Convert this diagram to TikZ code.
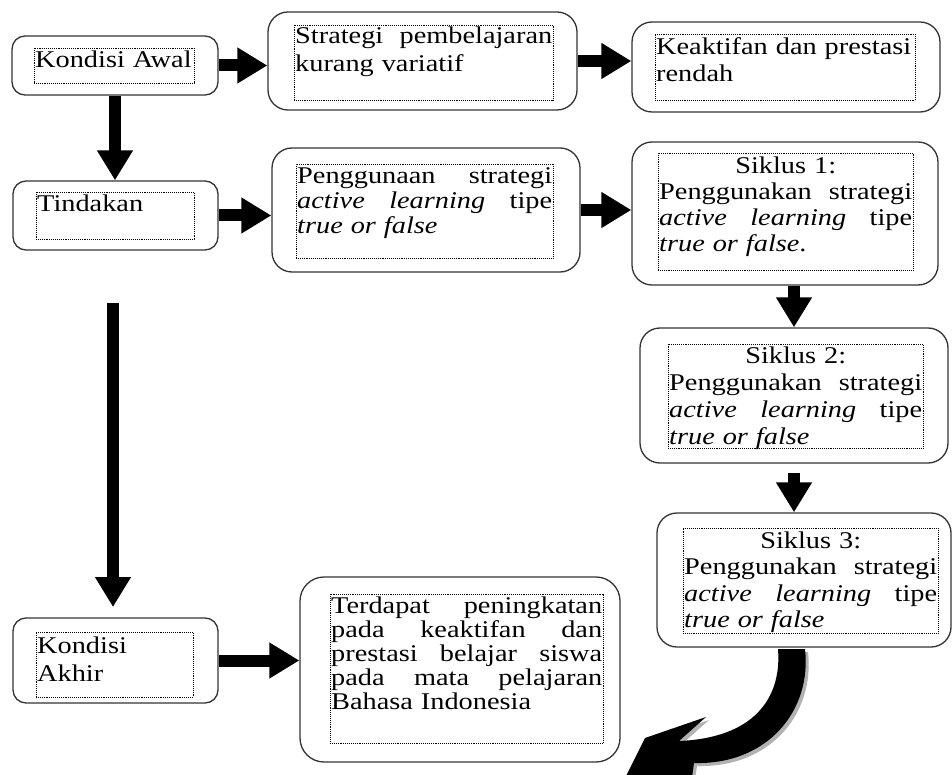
\documentclass[tikz,border=0pt]{standalone}
\usepackage{fontspec}
\setmainfont[FakeStretch=1.18]{Liberation Serif}
\usetikzlibrary{fit,arrows.meta,calc}
\begin{document}
\begin{tikzpicture}[x=1pt,y=-1pt,
  obox/.style={draw=black!80,line width=1.3pt,fill=white,inner sep=0pt,rounded corners=#1},
  obox/.default=20pt,
  ibox/.style={draw=black,densely dotted,line width=0.9pt,inner sep=0pt},
  txt/.style={anchor=north west,inner sep=0pt,align=left,font=\fontsize{24}{#1}\selectfont},
  txt/.default=27,
  fat/.style={line width=12pt,-{Triangle[length=30pt,width=34pt]}},
  shade/.style={fill=black!30}
]
\useasboundingbox (0,0) rectangle (952,775);

% ---------- boxes ----------
\node[obox=13pt, fit={(12,36)(218,95)}] (ka) {};
\node[ibox, fit={(34,48)(194,83)}] (kai) {};
\node[txt, text width=158pt] (kat) at (35,48) {\noindent\rule{0pt}{19pt}Kondisi Awal};

\node[obox, fit={(268,12)(577,110)}] (sp) {};
\node[ibox, fit={(294,25)(553,100)}] (spi) {};
\node[txt=28, text width=257pt] (spt) at (295,25) {\noindent\rule{0pt}{18pt}Strategi\hfill pembelajaran\\kurang variatif};

\node[obox, fit={(632,22)(940,112)}] (kp) {};
\node[ibox, fit={(655,34)(915,100)}] (kpi) {};
\node[txt, text width=258pt] (kpt) at (656,34) {\noindent\rule{0pt}{20pt}Keaktifan dan prestasi\\rendah};

\node[obox=13pt, fit={(13,181)(218,250)}] (ti) {};
\node[ibox, fit={(36,192)(194,239)}] (tii) {};
\node[txt, text width=156pt] (tit) at (37,192) {\noindent\rule{0pt}{19pt}Tindakan};

\node[obox, fit={(272,148)(580,272)}] (pg) {};
\node[ibox, fit={(296,164)(553,258)}] (pgi) {};
\node[txt=25, text width=255pt] (pgt) at (297,164) {\noindent\rule{0pt}{19pt}Penggunaan\hfill strategi\\\textit{active}\hfill\textit{learning}\hfill tipe\\\textit{true or false}};

\node[obox, fit={(632,142)(938,285)}] (s1) {};
\node[ibox, fit={(658,153)(913,270)}] (s1i) {};
\node[txt=26, text width=253pt] (s1t) at (659,153) {\noindent\rule{0pt}{20pt}\hfill Siklus 1:\hfill\null\\Penggunakan\hfill strategi\\\textit{active}\hfill\textit{learning}\hfill tipe\\\textit{true or false}.};

\node[obox, fit={(640,328)(948,463)}] (s2) {};
\node[ibox, fit={(668,344)(923,448)}] (s2i) {};
\node[txt=27, text width=253pt] (s2t) at (669,344) {\noindent\rule{0pt}{19pt}\hfill Siklus 2:\hfill\null\\Penggunakan\hfill strategi\\\textit{active}\hfill\textit{learning}\hfill tipe\\\textit{true or false}};

\node[obox, fit={(657,513)(951,647)}] (s3) {};
\node[ibox, fit={(683,528)(938,633)}] (s3i) {};
\node[txt=26.5, text width=253pt] (s3t) at (684,528) {\noindent\rule{0pt}{20pt}\hfill Siklus 3:\hfill\null\\Penggunakan\hfill strategi\\\textit{active}\hfill\textit{learning}\hfill tipe\\\textit{true or false}};

\node[obox=13pt, fit={(13,618)(218,703)}] (ak) {};
\node[ibox, fit={(36,632)(193,697)}] (aki) {};
\node[txt=28, text width=155pt] (akt) at (37,632) {\noindent\rule{0pt}{21pt}Kondisi\\Akhir};

\node[obox=24pt, fit={(300,577)(620,762)}] (td) {};
\node[ibox, fit={(330,594)(603,743)}] (tdi) {};
\node[txt=24, text width=271pt] (tdt) at (331,594) {\noindent\rule{0pt}{19pt}Terdapat\hfill peningkatan\\pada\hfill keaktifan\hfill dan\\prestasi\hfill belajar\hfill siswa\\pada\hfill mata\hfill pelajaran\\Bahasa Indonesia};

% ---------- arrows ----------
\draw[fat] (ka.east) -- (ka.east -| sp.west);
\draw[fat] (sp.east) -- (sp.east -| kp.west);
\draw[fat] (ka.south) -- (ka.south |- ti.north);
\draw[fat] (ti.east) -- (ti.east -| pg.west);
\draw[fat] (pg.east) -- (pg.east -| s1.west);
\coordinate (la1) at (113,303);
\coordinate (la2) at (113,607);
\draw[fat] (la1) -- (la2);
\draw[fat] (s1.south -| s2.north) -- (s2.north);
\draw[fat,shorten <=9pt] (s2.south) -- (s2.south |- s3.north);
\draw[fat] (ak.east) -- (ak.east -| td.west);

% ---------- curved arrow ----------
\begin{scope}
\clip (0,0) rectangle (952,775);
\fill[shade,shift={(3,3)}] (778,649) .. controls (782,700) and (752,738) .. (679,741)
   -- (706,717) -- (645,738) -- (624,780) -- (690,792) -- (694,763)
   .. controls (768,765) and (812,710) .. (805,649) -- cycle;
\fill[black] (778,649) .. controls (782,700) and (752,738) .. (679,741)
   -- (706,717) -- (645,738) -- (624,780) -- (690,792) -- (694,763)
   .. controls (768,765) and (812,710) .. (805,649) -- cycle;
\end{scope}
\end{tikzpicture}
\end{document}
